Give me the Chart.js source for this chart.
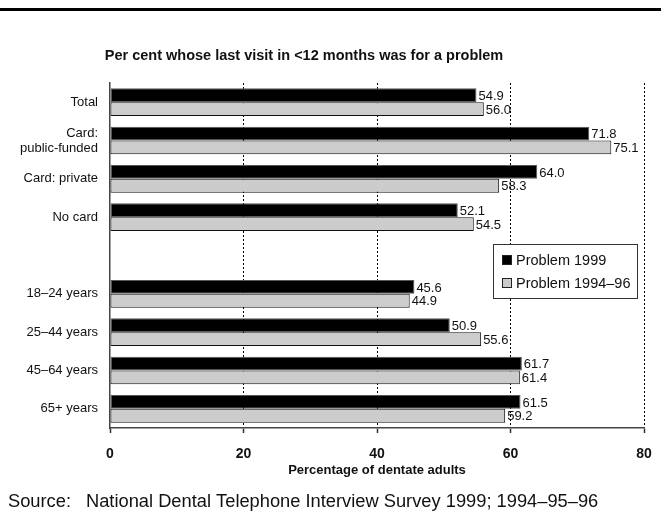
<!DOCTYPE html>
<html>
<head>
<meta charset="utf-8">
<script src="https://cdn.jsdelivr.net/npm/chart.js@4.4.1/dist/chart.umd.min.js"></script>
<style>
  html, body { margin: 0; padding: 0; background: #fff; }
  #wrap { position: relative; width: 661px; height: 531px; }
</style>
</head>
<body>
<div id="wrap"><canvas id="c" width="661" height="531"></canvas></div>
<script>
const categories = ['Total', ['Card:', 'public-funded'], 'Card: private', 'No card', '', '18\u201324 years', '25\u201344 years', '45\u201364 years', '65+ years'];
const problem1999 = [54.9, 71.8, 64.0, 52.1, null, 45.6, 50.9, 61.7, 61.5];
const problem199496 = [56.0, 75.1, 58.3, 54.5, null, 44.9, 55.6, 61.4, 59.2];
const seriesNames = ['Problem 1999', 'Problem 1994\u201396'];
const xTicks = [0, 20, 40, 60, 80];
const chartTitle = 'Per cent whose last visit in <12 months was for a problem';
const xTitle = 'Percentage of dentate adults';
const sourceLabel = 'Source:';
const sourceText = 'National Dental Telephone Interview Survey 1999; 1994\u201395\u201396';

const FONT = '"Liberation Sans", Arial, Helvetica, sans-serif';

const decorPlugin = {
  id: 'decor',
  beforeDraw(chart) {
    const ctx = chart.ctx;
    ctx.save();
    ctx.fillStyle = '#fff';
    ctx.fillRect(0, 0, chart.width, chart.height);
    ctx.fillStyle = '#000';
    ctx.fillRect(0, 8, chart.width, 3);
    ctx.restore();
  },
  afterDraw(chart) {
    const ctx = chart.ctx;
    ctx.save();
    // title
    ctx.fillStyle = '#111';
    ctx.font = 'bold 14.5px ' + FONT;
    ctx.textAlign = 'center';
    ctx.textBaseline = 'middle';
    ctx.fillText(chartTitle, 304, 56);
    // source
    ctx.font = '18.3px ' + FONT;
    ctx.textAlign = 'left';
    ctx.textBaseline = 'alphabetic';
    ctx.fillText(sourceLabel, 8, 507);
    ctx.fillText(sourceText, 86, 507);
    // legend
    const lx = 493, ly = 244, lw = 144, lh = 54;
    ctx.fillStyle = '#fff';
    ctx.fillRect(lx, ly, lw, lh);
    ctx.strokeStyle = '#333';
    ctx.lineWidth = 1;
    ctx.strokeRect(lx + 0.5, ly + 0.5, lw, lh);
    const ds = chart.data.datasets;
    const rows = [260, 283];
    ds.forEach((d, i) => {
      const y = rows[i];
      ctx.fillStyle = d.backgroundColor;
      ctx.fillRect(502, y - 5, 10, 10);
      ctx.strokeStyle = '#222';
      ctx.strokeRect(502.5, y - 4.5, 9, 9);
      ctx.fillStyle = '#111';
      ctx.font = '14.5px ' + FONT;
      ctx.textAlign = 'left';
      ctx.textBaseline = 'middle';
      ctx.fillText(d.label, 516, y + 1);
    });
    ctx.restore();
  },
  afterDatasetsDraw(chart) {
    const ctx = chart.ctx;
    ctx.save();
    ctx.fillStyle = '#111';
    ctx.font = '13px ' + FONT;
    ctx.textAlign = 'left';
    ctx.textBaseline = 'middle';
    chart.data.datasets.forEach((d, di) => {
      const meta = chart.getDatasetMeta(di);
      meta.data.forEach((bar, i) => {
        const v = d.data[i];
        if (v === null || v === undefined) return;
        ctx.fillText(v.toFixed(1), bar.x + 2, bar.y + 1);
      });
    });
    ctx.restore();
  }
};

new Chart(document.getElementById('c'), {
  type: 'bar',
  data: {
    labels: categories,
    datasets: [
      { label: seriesNames[0], data: problem1999, backgroundColor: '#000000', borderColor: '#555555', borderWidth: 1, borderSkipped: false },
      { label: seriesNames[1], data: problem199496, backgroundColor: '#cccccc', borderColor: '#111111', borderWidth: 1, borderSkipped: false }
    ]
  },
  options: {
    indexAxis: 'y',
    responsive: false,
    animation: false,
    devicePixelRatio: 1,
    layout: { padding: { top: 83, right: 17, bottom: 53, left: 0 } },
    datasets: { bar: { categoryPercentage: 0.72, barPercentage: 1.0 } },
    plugins: {
      legend: { display: false },
      title: { display: false },
      tooltip: { enabled: false }
    },
    scales: {
      x: {
        min: 0, max: 80,
        afterBuildTicks(scale) { scale.ticks = xTicks.map(v => ({ value: v })); },
        afterFit(scale) { scale.height = 50; scale.paddingLeft = 0; scale.paddingRight = 0; },
        ticks: { color: '#111', font: { family: FONT, size: 14, weight: 'bold' }, padding: 13 },
        grid: {
          color: (c) => (c.tick && c.tick.value === 0) ? 'rgba(0,0,0,0)' : '#000',
          lineWidth: 1,
          drawTicks: true,
          tickLength: 5,
          tickColor: '#333',
          tickWidth: 1.5
        },
        border: { display: true, color: '#444', width: 1.5, dash: [2, 2] },
        title: { display: true, text: xTitle, color: '#111', font: { family: FONT, size: 13, weight: 'bold' }, padding: { top: 0, bottom: 0 } }
      },
      y: {
        afterFit(scale) { scale.width = 110; },
        grid: { display: false },
        border: { display: true, color: '#444', width: 1.5 },
        ticks: { color: '#111', font: { family: FONT, size: 13, lineHeight: 1.15 }, padding: 4 }
      }
    }
  },
  plugins: [decorPlugin]
});
</script>
</body>
</html>
